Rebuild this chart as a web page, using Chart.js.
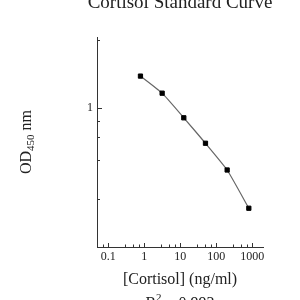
<!DOCTYPE html>
<html>
<head>
<meta charset="utf-8">
<script src="https://cdn.jsdelivr.net/npm/chart.js@4"></script>
<style>
  html, body { margin: 0; padding: 0; background: #fff; }
  #chart { display: block; }
</style>
</head>
<body>
<canvas id="chart" width="300" height="300"></canvas>
<script>
const concentrations = [0.78125, 3.125, 12.5, 50, 200, 800];
const odValues = [1.76, 1.3, 0.84, 0.535, 0.333, 0.169];
const xMajorTicks = [0.1, 1, 10, 100, 1000];
const xMinorTicks = [0.07, 0.3, 0.5, 0.7, 3, 5, 7, 30, 50, 70, 300, 500, 700];
const yTicks = [0.2, 0.4, 0.6, 0.8, 1, 3.34];
const yLabelled = [1];

const serif = "'Liberation Serif', 'Times New Roman', serif";
const ink = "#222";

// inward tick marks + titles drawn on top of the chart
const decor = {
  id: "decor",
  afterDraw(chart) {
    const { ctx, chartArea, scales } = chart;
    const x = scales.x, y = scales.y;
    ctx.save();
    ctx.strokeStyle = "#333";
    ctx.lineWidth = 1;
    ctx.beginPath();
    yTicks.forEach((v) => {
      const py = Math.round(y.getPixelForValue(v)) + 0.5;
      const len = yLabelled.includes(v) ? 5 : 3;
      ctx.moveTo(chartArea.left, py);
      ctx.lineTo(chartArea.left + len, py);
    });
    xMajorTicks.forEach((v) => {
      const px = Math.round(x.getPixelForValue(v)) + 0.5;
      ctx.moveTo(px, chartArea.bottom);
      ctx.lineTo(px, chartArea.bottom - 4);
    });
    xMinorTicks.forEach((v) => {
      const px = Math.round(x.getPixelForValue(v)) + 0.5;
      ctx.moveTo(px, chartArea.bottom);
      ctx.lineTo(px, chartArea.bottom - 2.5);
    });
    ctx.stroke();

    ctx.fillStyle = ink;
    ctx.textAlign = "center";
    ctx.textBaseline = "alphabetic";
    const cx = (chartArea.left + chartArea.right) / 2;

    ctx.font = "19px " + serif;
    ctx.fillText("Cortisol Standard Curve", cx, 8);

    ctx.font = "16px " + serif;
    ctx.fillText("[Cortisol] (ng/ml)", cx, 284);

    // R² line (mostly cut off at the bottom)
    ctx.textAlign = "left";
    const rW = ctx.measureText("R").width;
    ctx.font = "11px " + serif;
    const sW = ctx.measureText("2").width;
    ctx.font = "16px " + serif;
    const rest = " = 0.993";
    const restW = ctx.measureText(rest).width;
    let sx = cx - (rW + sW + restW) / 2;
    ctx.fillText("R", sx, 308);
    ctx.font = "11px " + serif;
    ctx.fillText("2", sx + rW, 301);
    ctx.font = "16px " + serif;
    ctx.fillText(rest, sx + rW + sW, 308);

    // y title with subscript, rotated
    ctx.translate(31, 142);
    ctx.rotate(-Math.PI / 2);
    ctx.font = "16px " + serif;
    const odW = ctx.measureText("OD").width;
    const nmW = ctx.measureText(" nm").width;
    ctx.font = "11px " + serif;
    const subW = ctx.measureText("450").width;
    let tx = -(odW + subW + nmW) / 2;
    ctx.font = "16px " + serif;
    ctx.fillText("OD", tx, 0);
    ctx.font = "11px " + serif;
    ctx.fillText("450", tx + odW, 3);
    ctx.font = "16px " + serif;
    ctx.fillText(" nm", tx + odW + subW, 0);
    ctx.restore();
  },
};

new Chart(document.getElementById("chart"), {
  type: "line",
  data: {
    labels: concentrations,
    datasets: [
      {
        data: concentrations.map((c, i) => ({ x: c, y: odValues[i] })),
        borderColor: "#666",
        borderWidth: 1.2,
        tension: 0.15,
        pointStyle: "rect",
        pointRadius: 3,
        pointBorderWidth: 1,
        pointBackgroundColor: "#000",
        pointBorderColor: "#000",
      },
    ],
  },
  options: {
    responsive: false,
    animation: false,
    layout: { padding: { top: 37, right: 37, left: 0, bottom: 0 } },
    plugins: { legend: { display: false }, tooltip: { enabled: false } },
    scales: {
      x: {
        type: "logarithmic",
        min: 0.0485,
        max: 1980,
        afterFit: (s) => { s.height = 53; },
        afterBuildTicks: (s) => { s.ticks = xMajorTicks.map((v) => ({ value: v })); },
        grid: { display: false, drawTicks: false },
        border: { display: true, color: "#333", width: 1 },
        ticks: {
          autoSkip: false,
          maxRotation: 0,
          padding: 3,
          color: ink,
          font: { family: serif, size: 12 },
          callback: (v) => String(v),
        },
      },
      y: {
        type: "logarithmic",
        min: 0.085,
        max: 3.52,
        afterFit: (s) => { s.width = 97; },
        afterBuildTicks: (s) => { s.ticks = yTicks.map((v) => ({ value: v })); },
        grid: { display: false, drawTicks: false },
        border: { display: true, color: "#333", width: 1 },
        ticks: {
          autoSkip: false,
          padding: 4,
          color: ink,
          font: { family: serif, size: 12 },
          callback: (v) => (yLabelled.includes(v) ? String(v) : ""),
        },
      },
    },
  },
  plugins: [decor],
});
</script>
</body>
</html>
